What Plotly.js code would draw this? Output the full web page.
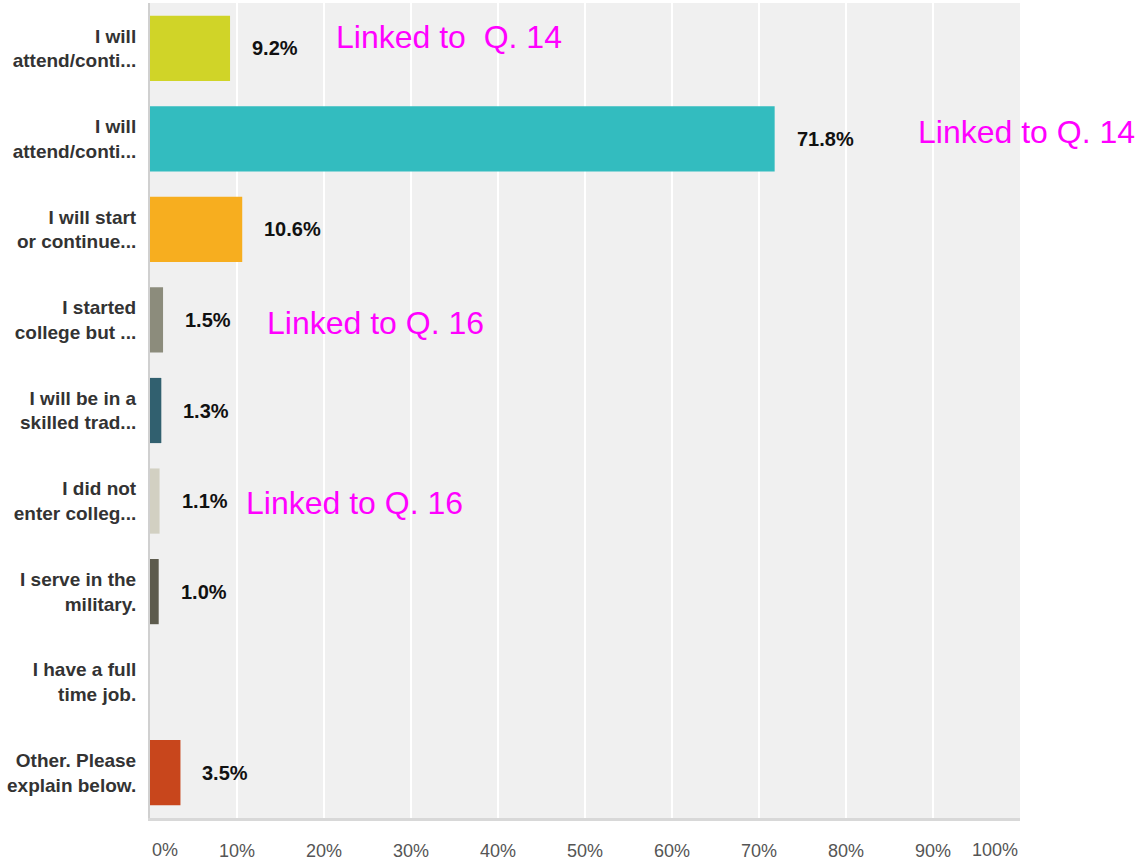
<!DOCTYPE html>
<html>
<head>
<meta charset="utf-8">
<script src="https://cdn.plot.ly/plotly-3.0.1.min.js"></script>
<style>html,body{margin:0;padding:0;background:#fff;}#chart{width:1147px;height:862px;}</style>
</head>
<body>
<div id="chart"></div>
<script>
const categories = [
  "I will<br>attend/conti...",
  "I will<br>attend/conti...",
  "I will start<br>or continue...",
  "I started<br>college but ...",
  "I will be in a<br>skilled trad...",
  "I did not<br>enter colleg...",
  "I serve in the<br>military.",
  "I have a full<br>time job.",
  "Other. Please<br>explain below."
];
const values = [9.2, 71.8, 10.6, 1.5, 1.3, 1.1, 1.0, 0, 3.5];
const barColors = ["#d0d428", "#33bcbf", "#f7ae1f", "#8c8c7c", "#31606f", "#d2d0c2", "#5d5b4d", "#cccccc", "#c8461c"];
const xTickVals = [0, 10, 20, 30, 40, 50, 60, 70, 80, 90, 100];
const xTickText = ["0%", "10%", "20%", "30%", "40%", "50%", "60%", "70%", "80%", "90%", "100%"];
const notes = ["Linked to  Q. 14", "Linked to Q. 14", "Linked to Q. 16", "Linked to Q. 16"];
const noteX = [21.2, 88.0, 13.2, 10.8];
const noteY = [-0.12, 0.92, 3.03, 5.02];

const idx = categories.map((_, i) => i);
const FONT = "Liberation Sans, Arial, Helvetica, sans-serif";
const last = xTickVals.length - 1;

const annotations = [];
values.forEach((v, i) => {
  if (v > 0) {
    annotations.push({
      x: v, y: i, xref: 'x', yref: 'y', text: v.toFixed(1) + '%',
      showarrow: false, xanchor: 'left', yanchor: 'middle', xshift: 20,
      font: {family: FONT, size: 20, color: '#111', weight: 'bold'}
    });
  }
});
notes.forEach((t, i) => {
  annotations.push({
    x: noteX[i], y: noteY[i], xref: 'x', yref: 'y', text: t,
    showarrow: false, xanchor: 'left', yanchor: 'middle',
    font: {family: FONT, size: 32, color: '#ff00ff'}
  });
});
// end tick labels aligned inward, as in the reference
[[0, 'left'], [last, 'right']].forEach(([k, anchor]) => {
  annotations.push({
    x: xTickVals[k], y: 0, xref: 'x', yref: 'paper', text: xTickText[k],
    showarrow: false, xanchor: anchor, yanchor: 'middle', yshift: -32,
    font: {family: FONT, size: 18, color: '#555'}
  });
});

const trace = {
  type: 'bar', orientation: 'h',
  x: values, y: idx, width: 0.72,
  marker: {color: barColors},
  hoverinfo: 'none'
};

const layout = {
  width: 1147, height: 862,
  margin: {l: 150, r: 127, t: 3, b: 44},
  paper_bgcolor: '#ffffff', plot_bgcolor: '#f0f0f0',
  showlegend: false,
  font: {family: FONT},
  xaxis: {
    range: [0, 100], tickvals: xTickVals.slice(1, last), ticktext: xTickText.slice(1, last),
    showgrid: true, gridcolor: '#ffffff', gridwidth: 2,
    zeroline: false, showline: true, linecolor: '#d8d8d8', linewidth: 3,
    ticks: '', ticklabelstandoff: 14,
    tickfont: {family: FONT, size: 18, color: '#555'}, fixedrange: true
  },
  yaxis: {
    range: [8.5, -0.5], tickvals: idx, ticktext: categories,
    showgrid: false, zeroline: false, showline: true, linecolor: '#d0d0d0', linewidth: 2,
    ticks: '', ticklabelstandoff: 8,
    tickfont: {family: FONT, size: 19, color: '#333', weight: 'bold'}, fixedrange: true
  },
  annotations: annotations
};

Plotly.newPlot('chart', [trace], layout, {displayModeBar: false, staticPlot: true});
</script>
</body>
</html>
